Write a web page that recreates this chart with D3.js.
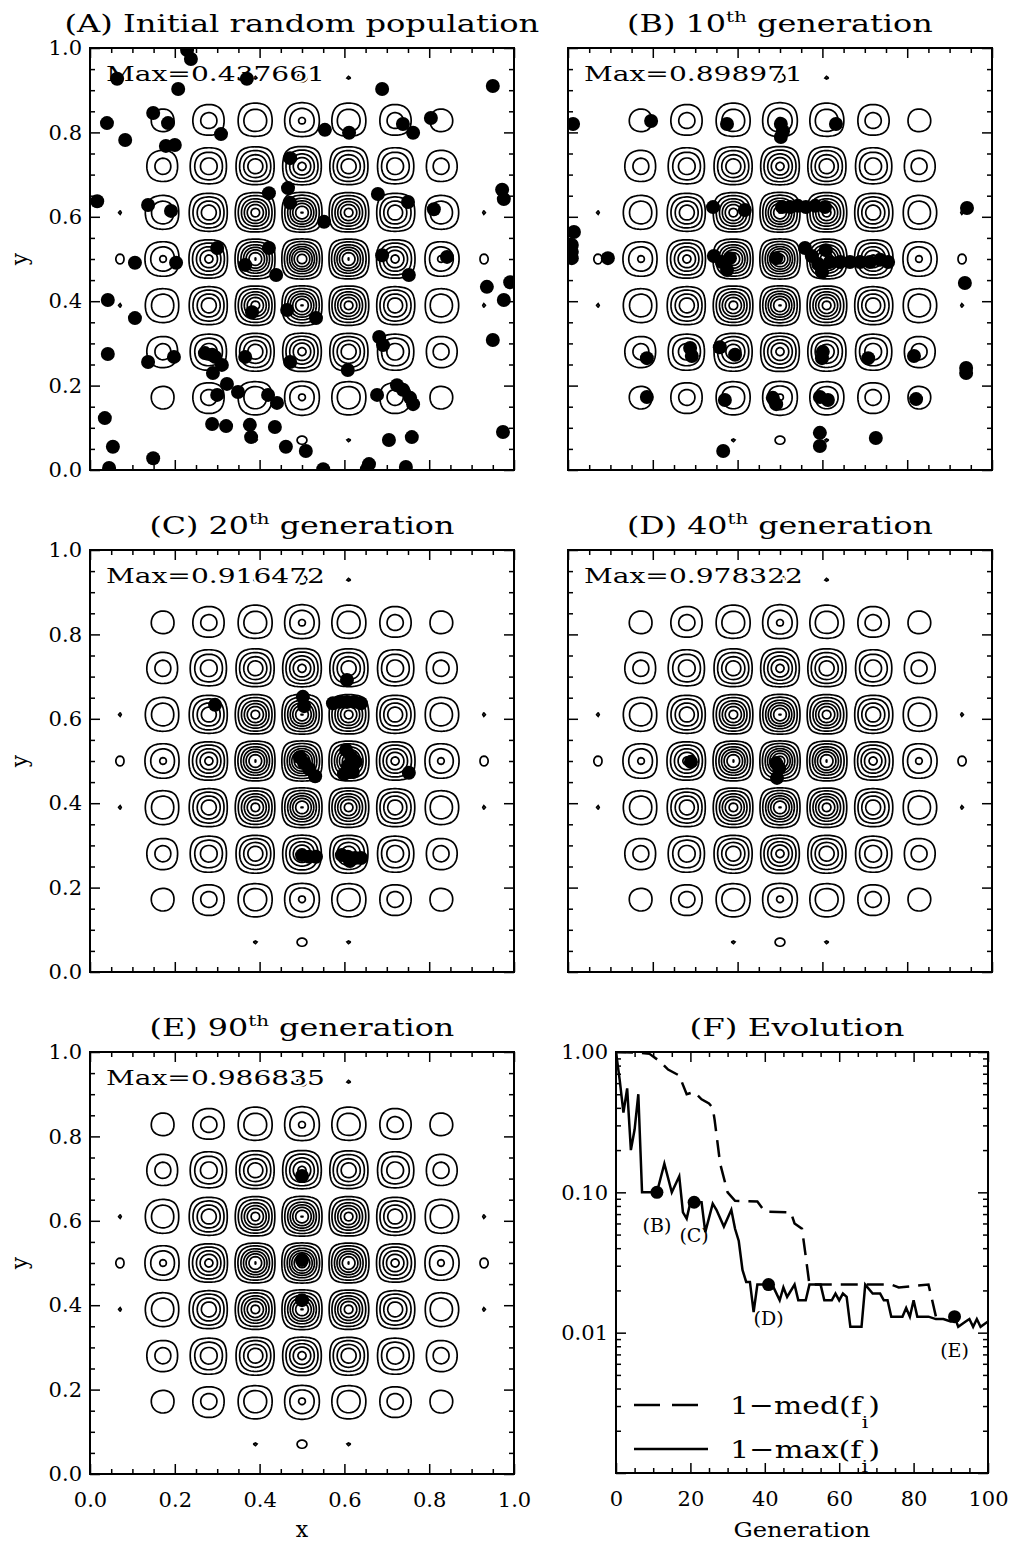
<!DOCTYPE html>
<html><head><meta charset="utf-8">
<script src="https://cdn.jsdelivr.net/npm/d3@7"></script>
<style>body{margin:0;background:#fff}svg{display:block}</style>
</head><body>
<svg id="c" width="1011" height="1543"></svg>
<script>
// ---------------- DATA ----------------
const titleMain = ["(A) Initial random population", "(B) 10", "(C) 20", "(D) 40", "(E) 90"];
const titleSup = ["", "th", "th", "th", "th"];
const titleTail = ["", " generation", " generation", " generation", " generation"];
const maxLabels = ["Max=0.437661", "Max=0.898971", "Max=0.916472", "Max=0.978322", "Max=0.986835"];
const titleF = "(F) Evolution";

// contour field parameters (test function [16x(1-x)y(1-y)sin(n pi x)sin(n pi y)]^2)
const peaksN = 9;
const contourLevels = [0.051, 0.15, 0.3, 0.45, 0.6, 0.75, 0.9];

const xyMajorTicks = [0, 0.2, 0.4, 0.6, 0.8, 1.0];
const xyMinorTicks = [0.05,0.1,0.15,0.25,0.3,0.35,0.45,0.5,0.55,0.65,0.7,0.75,0.85,0.9,0.95];

const popA = [[0.229,0.995],[0.238,0.974],[0.064,0.927],[0.208,0.903],[0.370,0.927],[0.689,0.903],[0.950,0.910],
[0.040,0.822],[0.083,0.782],[0.149,0.846],[0.184,0.822],[0.309,0.796],[0.554,0.806],[0.611,0.799],[0.738,0.820],
[0.762,0.799],[0.804,0.834],[0.179,0.768],[0.200,0.770],[0.472,0.739],[0.422,0.656],[0.467,0.668],[0.472,0.633],
[0.552,0.588],[0.679,0.654],[0.750,0.635],[0.811,0.618],[0.017,0.637],[0.137,0.628],[0.191,0.614],[0.300,0.526],
[0.366,0.486],[0.422,0.526],[0.439,0.462],[0.689,0.509],[0.752,0.462],[0.842,0.505],[0.106,0.491],[0.203,0.491],
[0.972,0.664],[0.976,0.642],[0.991,0.445],[0.976,0.403],[0.936,0.434],[0.042,0.403],[0.106,0.360],[0.382,0.374],
[0.465,0.379],[0.533,0.360],[0.682,0.315],[0.691,0.296],[0.271,0.277],[0.295,0.268],[0.311,0.249],[0.366,0.268],
[0.472,0.256],[0.608,0.237],[0.042,0.275],[0.137,0.256],[0.198,0.268],[0.288,0.273],[0.290,0.230],[0.950,0.308],
[0.323,0.204],[0.300,0.178],[0.349,0.185],[0.420,0.178],[0.441,0.159],[0.677,0.178],[0.724,0.201],[0.738,0.190],
[0.755,0.171],[0.762,0.156],[0.035,0.123],[0.288,0.109],[0.321,0.104],[0.377,0.107],[0.380,0.078],[0.436,0.102],
[0.462,0.055],[0.509,0.045],[0.705,0.071],[0.759,0.078],[0.974,0.090],[0.054,0.055],[0.149,0.028],[0.045,0.005],
[0.550,0.002],[0.658,0.014],[0.653,0.002],[0.745,0.007]];

const popB = [[0.012,0.820],[0.196,0.827],[0.375,0.820],[0.502,0.820],[0.507,0.803],[0.502,0.789],[0.632,0.820],
[0.342,0.623],[0.417,0.616],[0.505,0.623],[0.524,0.623],[0.542,0.626],[0.561,0.623],[0.583,0.626],[0.606,0.623],
[0.941,0.621],[0.014,0.564],[0.009,0.533],[0.009,0.517],[0.009,0.502],[0.094,0.502],[0.344,0.507],[0.363,0.493],
[0.382,0.502],[0.375,0.474],[0.491,0.502],[0.559,0.526],[0.575,0.507],[0.590,0.488],[0.599,0.469],[0.608,0.521],
[0.618,0.493],[0.642,0.493],[0.665,0.493],[0.689,0.493],[0.712,0.493],[0.736,0.498],[0.755,0.493],[0.936,0.443],
[0.186,0.265],[0.288,0.289],[0.292,0.270],[0.358,0.291],[0.394,0.273],[0.601,0.280],[0.599,0.265],[0.708,0.265],
[0.816,0.270],[0.939,0.242],[0.939,0.230],[0.186,0.173],[0.370,0.166],[0.483,0.171],[0.491,0.156],[0.594,0.173],
[0.613,0.166],[0.821,0.168],[0.366,0.045],[0.594,0.088],[0.594,0.057],[0.726,0.076]];

const popC = [[0.295,0.633],[0.502,0.652],[0.505,0.630],[0.573,0.637],[0.590,0.640],[0.606,0.640],[0.623,0.640],
[0.639,0.637],[0.606,0.692],[0.495,0.509],[0.505,0.495],[0.517,0.481],[0.531,0.464],[0.604,0.526],[0.616,0.509],
[0.627,0.498],[0.608,0.488],[0.599,0.469],[0.620,0.474],[0.752,0.472],[0.500,0.277],[0.517,0.273],[0.533,0.273],
[0.594,0.277],[0.608,0.273],[0.625,0.270],[0.639,0.270],[0.613,0.263]];

const popD = [[0.290,0.498],[0.491,0.495],[0.498,0.483],[0.493,0.460]];

const popE = [[0.500,0.706],[0.500,0.507],[0.500,0.412]];

const populations = [popA, popB, popC, popD, popE];

// Panel F
const genMax = [0,1,2,3,4,5,6,7,10,11,13,15,17,18,19,20,22,23,24,26,27,29,31,32,33,34,35,36,37,38,40,42,44,45,46,48,49,51,52,55,56,58,59,60,61,62,63,66,67,69,71,72,73,74,77,78,79,80,81,84,86,88,90,91,92,94,95,96,97,98,100];
const valMax = [1.0,0.63,0.37,0.55,0.20,0.28,0.50,0.10,0.10,0.10,0.16,0.10,0.13,0.072,0.065,0.085,0.085,0.085,0.052,0.083,0.075,0.057,0.075,0.055,0.045,0.028,0.023,0.023,0.014,0.022,0.022,0.022,0.017,0.021,0.018,0.022,0.017,0.017,0.022,0.022,0.017,0.017,0.019,0.017,0.019,0.018,0.011,0.011,0.022,0.019,0.019,0.017,0.017,0.013,0.013,0.015,0.013,0.017,0.013,0.013,0.0125,0.0125,0.012,0.013,0.011,0.012,0.0125,0.011,0.0125,0.011,0.012];
const genMed = [0,6,9,12,14,17,19,21,23,25,26,26.5,28,30,32,38,40,47,48,50,51,52,62,66,74,76,84,85,86];
const valMed = [1.0,0.99,0.97,0.85,0.75,0.68,0.50,0.52,0.46,0.43,0.40,0.33,0.16,0.10,0.087,0.086,0.073,0.072,0.060,0.055,0.035,0.022,0.022,0.022,0.022,0.021,0.022,0.017,0.013];
const markGen = [11, 21, 41, 91];
const markVal = [0.10, 0.085, 0.022, 0.013];
const markLabel = ["(B)", "(C)", "(D)", "(E)"];
const genTicks = [0, 20, 40, 60, 80, 100];
const genMinor = [5,10,15,25,30,35,45,50,55,65,70,75,85,90,95];
const logTicks = [1, 0.1, 0.01, 0.001];
const logTickLabels = ["1.00", "0.10", "0.01", ""];
const legendText = ["1\u2212med(f", "1\u2212max(f"];

// ---------------- LAYOUT ----------------
const serif = "'DejaVu Serif','Liberation Serif',serif";
const W = 424, H = 422;
const layout = [
  {left: 90, top: 48, showY: true, showX: false},
  {left: 568, top: 48, showY: false, showX: false},
  {left: 90, top: 550, showY: true, showX: false},
  {left: 568, top: 550, showY: false, showX: false},
  {left: 90, top: 1052, showY: true, showX: true}
];
const titleWidths = [475, 306, 305, 306, 305];
const svg = d3.select('#c');
const defs = svg.append('defs');

function wideText(parent, x, y, anchor, targetW, size, build) {
  const g = parent.append('g');
  const t = g.append('text').attr('font-family', serif).attr('font-size', size).attr('fill', '#000');
  build(t);
  const w = t.node().getComputedTextLength();
  const k = targetW / w;
  const x0 = anchor === 'middle' ? x - targetW / 2 : x;
  g.attr('transform', `translate(${x0},${y}) scale(${k},1)`);
  return t;
}

// field & contours
const N = 260;
const vals = new Float64Array(N * N);
function field(x, y) {
  const g = 16 * x * (1 - x) * y * (1 - y) * Math.sin(peaksN * Math.PI * x) * Math.sin(peaksN * Math.PI * y);
  return g * g;
}
for (let j = 0; j < N; j++) for (let i = 0; i < N; i++) {
  vals[j * N + i] = field((i + 0.5) / N, 1 - (j + 0.5) / N);
}
const contours = d3.contours().size([N, N]).thresholds(contourLevels)(vals);

function styleAxis(g, size) {
  g.select('.domain').remove();
  g.selectAll('line').attr('stroke', '#000').attr('stroke-width', 1.5);
  g.selectAll('text').attr('font-family', serif).attr('font-size', size).attr('fill', '#000');
}

layout.forEach((p, k) => {
  const sx = d3.scaleLinear().domain([0, 1]).range([p.left, p.left + W]);
  const sy = d3.scaleLinear().domain([0, 1]).range([p.top + H, p.top]);
  const g = svg.append('g');
  const cid = 'clip' + k;
  defs.append('clipPath').attr('id', cid).append('rect')
    .attr('x', p.left).attr('y', p.top).attr('width', W).attr('height', H);

  // contours
  const proj = d3.geoTransform({point(gx, gy) { this.stream.point(sx(gx / N), sy(1 - gy / N)); }});
  const path = d3.geoPath(proj);
  g.append('g').attr('clip-path', `url(#${cid})`).selectAll('path').data(contours).join('path')
    .attr('d', path).attr('fill', 'none').attr('stroke', '#000').attr('stroke-width', 1.7);

  // Max label
  wideText(g, p.left + 16, p.top + 33, 'start', 219, 21, t => {
    t.text(maxLabels[k]).attr('stroke', '#fff').attr('stroke-width', 4).attr('paint-order', 'stroke');
  });

  // population
  g.append('g').attr('clip-path', `url(#${cid})`).selectAll('circle').data(populations[k]).join('circle')
    .attr('cx', d => sx(d[0])).attr('cy', d => sy(d[1])).attr('r', 7).attr('fill', '#000');

  // axes
  const left = g.append('g').attr('transform', `translate(${p.left},0)`)
    .call(d3.axisLeft(sy).tickValues(xyMajorTicks).tickSize(-10).tickSizeOuter(0).tickPadding(8)
      .tickFormat(p.showY ? d3.format('.1f') : () => ''));
  styleAxis(left, 21);
  const leftMin = g.append('g').attr('transform', `translate(${p.left},0)`)
    .call(d3.axisLeft(sy).tickValues(xyMinorTicks).tickSize(-5).tickSizeOuter(0).tickFormat(() => ''));
  styleAxis(leftMin, 21);
  const right = g.append('g').attr('transform', `translate(${p.left + W},0)`)
    .call(d3.axisRight(sy).tickValues(xyMajorTicks).tickSize(-10).tickSizeOuter(0).tickFormat(() => ''));
  styleAxis(right, 21);
  const rightMin = g.append('g').attr('transform', `translate(${p.left + W},0)`)
    .call(d3.axisRight(sy).tickValues(xyMinorTicks).tickSize(-5).tickSizeOuter(0).tickFormat(() => ''));
  styleAxis(rightMin, 21);
  const bottom = g.append('g').attr('transform', `translate(0,${p.top + H})`)
    .call(d3.axisBottom(sx).tickValues(xyMajorTicks).tickSize(-10).tickSizeOuter(0).tickPadding(18)
      .tickFormat(p.showX ? d3.format('.1f') : () => ''));
  styleAxis(bottom, 21);
  const bottomMin = g.append('g').attr('transform', `translate(0,${p.top + H})`)
    .call(d3.axisBottom(sx).tickValues(xyMinorTicks).tickSize(-5).tickSizeOuter(0).tickFormat(() => ''));
  styleAxis(bottomMin, 21);
  const top = g.append('g').attr('transform', `translate(0,${p.top})`)
    .call(d3.axisTop(sx).tickValues(xyMajorTicks).tickSize(-10).tickSizeOuter(0).tickFormat(() => ''));
  styleAxis(top, 21);
  const topMin = g.append('g').attr('transform', `translate(0,${p.top})`)
    .call(d3.axisTop(sx).tickValues(xyMinorTicks).tickSize(-5).tickSizeOuter(0).tickFormat(() => ''));
  styleAxis(topMin, 21);

  g.append('rect').attr('x', p.left).attr('y', p.top).attr('width', W).attr('height', H)
    .attr('fill', 'none').attr('stroke', '#000').attr('stroke-width', 2);

  // title
  wideText(g, p.left + W / 2, p.top - 16, 'middle', titleWidths[k], 24, t => {
    t.append('tspan').text(titleMain[k]);
    if (titleSup[k]) {
      t.append('tspan').attr('dy', -10).attr('font-size', 15).text(titleSup[k]);
      t.append('tspan').attr('dy', 10).text(titleTail[k]);
    }
  });

  if (p.showY) {
    g.append('text').attr('transform', `translate(27,${p.top + H / 2}) rotate(-90)`)
      .attr('text-anchor', 'middle').attr('font-family', serif).attr('font-size', 22).text('y');
  }
  if (p.showX) {
    g.append('text').attr('x', p.left + W / 2).attr('y', 1537)
      .attr('text-anchor', 'middle').attr('font-family', serif).attr('font-size', 22).text('x');
  }
});

// ---------------- PANEL F ----------------
const F = {left: 616, top: 1052, w: 372, h: 421};
const fx = d3.scaleLinear().domain([0, 100]).range([F.left, F.left + F.w]);
const fy = d3.scaleLog().domain([0.001, 1]).range([F.top + F.h, F.top]);
const gF = svg.append('g');
defs.append('clipPath').attr('id', 'clipF').append('rect')
  .attr('x', F.left).attr('y', F.top).attr('width', F.w).attr('height', F.h);

const line = d3.line().x(d => fx(d[0])).y(d => fy(d[1]));
const medPts = genMed.map((g, i) => [g, valMed[i]]);
const maxPts = genMax.map((g, i) => [g, valMax[i]]);
const plotF = gF.append('g').attr('clip-path', 'url(#clipF)');
plotF.append('path').attr('d', line(medPts)).attr('fill', 'none').attr('stroke', '#000')
  .attr('stroke-width', 2.5).attr('stroke-dasharray', '17,9');
plotF.append('path').attr('d', line(maxPts)).attr('fill', 'none').attr('stroke', '#000')
  .attr('stroke-width', 2.5).attr('stroke-linejoin', 'miter');
plotF.selectAll('circle').data(markGen).join('circle')
  .attr('cx', d => fx(d)).attr('cy', (d, i) => fy(markVal[i])).attr('r', 6.5).attr('fill', '#000');
gF.selectAll('text.ml').data(markLabel).join('text').attr('class', 'ml')
  .attr('x', (d, i) => fx(markGen[i])).attr('y', (d, i) => fy(markVal[i]) + 40)
  .attr('text-anchor', 'middle').attr('font-family', serif).attr('font-size', 19).text(d => d);

const fyMinor = fy.ticks().filter(v => !logTicks.some(t => Math.abs(t - v) < 1e-12));
const fl = gF.append('g').attr('transform', `translate(${F.left},0)`)
  .call(d3.axisLeft(fy).tickValues(logTicks).tickSize(-10).tickSizeOuter(0).tickPadding(8)
    .tickFormat((d, i) => logTickLabels[i]));
styleAxis(fl, 21);
styleAxis(gF.append('g').attr('transform', `translate(${F.left},0)`)
  .call(d3.axisLeft(fy).tickValues(fyMinor).tickSize(-5).tickSizeOuter(0).tickFormat(() => '')), 21);
styleAxis(gF.append('g').attr('transform', `translate(${F.left + F.w},0)`)
  .call(d3.axisRight(fy).tickValues(logTicks).tickSize(-10).tickSizeOuter(0).tickFormat(() => '')), 21);
styleAxis(gF.append('g').attr('transform', `translate(${F.left + F.w},0)`)
  .call(d3.axisRight(fy).tickValues(fyMinor).tickSize(-5).tickSizeOuter(0).tickFormat(() => '')), 21);
styleAxis(gF.append('g').attr('transform', `translate(0,${F.top + F.h})`)
  .call(d3.axisBottom(fx).tickValues(genTicks).tickSize(-10).tickSizeOuter(0).tickPadding(18)
    .tickFormat(d3.format('d'))), 21);
styleAxis(gF.append('g').attr('transform', `translate(0,${F.top + F.h})`)
  .call(d3.axisBottom(fx).tickValues(genMinor).tickSize(-5).tickSizeOuter(0).tickFormat(() => '')), 21);
styleAxis(gF.append('g').attr('transform', `translate(0,${F.top})`)
  .call(d3.axisTop(fx).tickValues(genTicks).tickSize(-10).tickSizeOuter(0).tickFormat(() => '')), 21);
styleAxis(gF.append('g').attr('transform', `translate(0,${F.top})`)
  .call(d3.axisTop(fx).tickValues(genMinor).tickSize(-5).tickSizeOuter(0).tickFormat(() => '')), 21);
gF.append('rect').attr('x', F.left).attr('y', F.top).attr('width', F.w).attr('height', F.h)
  .attr('fill', 'none').attr('stroke', '#000').attr('stroke-width', 2);

wideText(gF, F.left + F.w / 2 - 5, F.top - 16, 'middle', 215, 24, t => t.text(titleF));
wideText(gF, F.left + F.w / 2, 1537, 'middle', 137, 20, t => t.text('Generation'));

// legend
const legY = [1405, 1449];
gF.append('line').attr('x1', 634).attr('x2', 660).attr('y1', legY[0]).attr('y2', legY[0])
  .attr('stroke', '#000').attr('stroke-width', 2.5);
gF.append('line').attr('x1', 672).attr('x2', 698).attr('y1', legY[0]).attr('y2', legY[0])
  .attr('stroke', '#000').attr('stroke-width', 2.5);
gF.append('line').attr('x1', 634).attr('x2', 708).attr('y1', legY[1]).attr('y2', legY[1])
  .attr('stroke', '#000').attr('stroke-width', 2.5);
legendText.forEach((s, i) => {
  wideText(gF, 730, legY[i] + 9, 'start', 150, 25, t => {
    t.append('tspan').text(s);
    t.append('tspan').attr('dy', 14).attr('font-size', 17).text('i');
    t.append('tspan').attr('dy', -14).text(')');
  });
});
</script>
</body></html>
